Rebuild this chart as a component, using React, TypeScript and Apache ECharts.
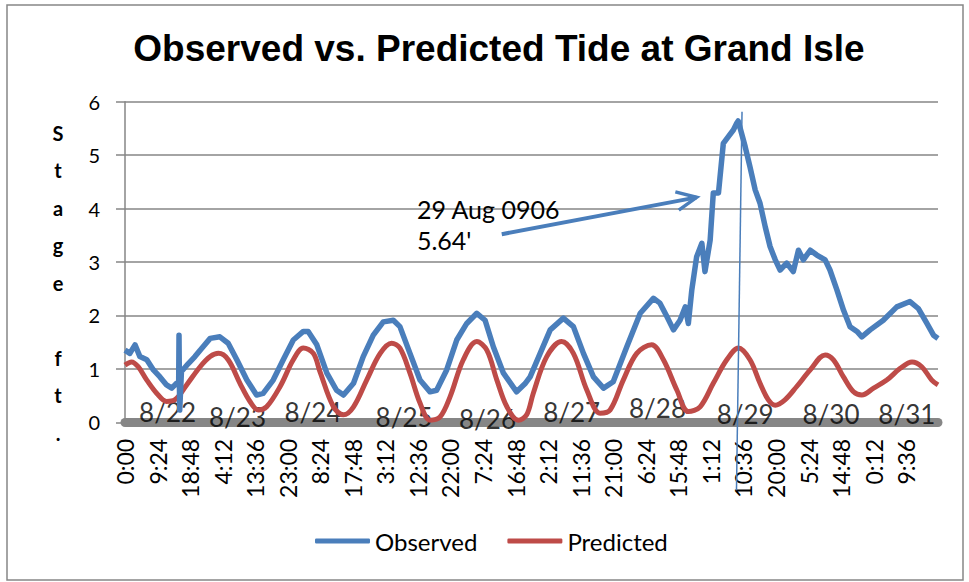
import { useEffect, useRef } from 'react';
import * as echarts from 'echarts';

const titleText = 'Observed vs. Predicted Tide at Grand Isle';
const yAxisLetters = ['S', 't', 'a', 'g', 'e', '', 'f', 't', '.'];
const seriesNames = ['Observed', 'Predicted'];

// x tick labels every 9:24 (9.4 h) from 8/22 0:00
const tickLabels = ['0:00', '9:24', '18:48', '4:12', '13:36', '23:00', '8:24', '17:48', '3:12', '12:36', '22:00', '7:24', '16:48', '2:12', '11:36', '21:00', '6:24', '15:48', '1:12', '10:36', '20:00', '5:24', '14:48', '0:12', '9:36'];

// hours since 8/22 0:00
const obsHours = [0.0, 1.4, 2.9, 4.3, 6.3, 8.2, 10.1, 12.0, 13.5, 14.9, 15.5, 15.6, 15.7, 15.8, 16.3, 18.3, 20.2, 21.7, 24.6, 27.4, 29.8, 32.3, 35.2, 38.0, 39.9, 42.8, 45.7, 48.6, 51.5, 52.9, 55.4, 58.3, 61.1, 63.1, 66.0, 68.8, 71.7, 74.6, 77.5, 79.4, 82.3, 85.2, 88.1, 90.0, 92.9, 95.8, 98.7, 101.6, 104.0, 106.4, 109.3, 113.1, 115.5, 117.0, 119.9, 122.8, 126.6, 129.5, 132.4, 135.3, 138.2, 141.0, 144.9, 148.8, 152.6, 154.5, 156.5, 158.4, 160.3, 161.8, 162.7, 163.7, 165.1, 166.6, 167.5, 169.0, 169.9, 171.4, 172.8, 174.3, 175.7, 176.7, 177.1, 179.1, 180.5, 182.0, 183.4, 184.9, 186.3, 187.8, 189.2, 191.1, 193.0, 194.5, 195.9, 197.9, 199.8, 202.2, 203.6, 205.6, 207.5, 209.4, 211.4, 212.8, 215.2, 219.0, 222.9, 226.7, 229.1, 231.6, 233.5, 234.8];
const obsStage = [1.35, 1.29, 1.45, 1.23, 1.17, 0.98, 0.85, 0.70, 0.64, 0.73, 0.72, 1.63, 0.80, 0.23, 0.95, 1.10, 1.23, 1.35, 1.57, 1.60, 1.48, 1.17, 0.79, 0.51, 0.54, 0.79, 1.17, 1.54, 1.70, 1.70, 1.45, 0.92, 0.60, 0.51, 0.73, 1.23, 1.63, 1.88, 1.91, 1.79, 1.29, 0.79, 0.57, 0.60, 0.98, 1.54, 1.85, 2.04, 1.91, 1.41, 0.92, 0.57, 0.72, 0.85, 1.29, 1.73, 1.95, 1.79, 1.29, 0.85, 0.64, 0.76, 1.41, 2.04, 2.32, 2.23, 1.98, 1.73, 1.91, 2.16, 1.85, 2.48, 3.10, 3.35, 2.82, 3.41, 4.29, 4.29, 5.22, 5.35, 5.47, 5.60, 5.64, 5.16, 4.78, 4.35, 4.10, 3.66, 3.29, 3.04, 2.85, 2.98, 2.82, 3.22, 3.04, 3.22, 3.13, 3.04, 2.85, 2.48, 2.10, 1.79, 1.70, 1.60, 1.73, 1.91, 2.16, 2.26, 2.13, 1.85, 1.63, 1.57];

const predHours = [0.0, 1.9, 3.8, 6.3, 9.2, 12.0, 14.4, 17.8, 21.7, 24.6, 27.0, 29.8, 33.2, 36.1, 38.5, 40.9, 44.8, 48.6, 51.5, 54.4, 56.3, 60.2, 63.1, 66.0, 69.8, 73.7, 77.0, 79.4, 82.3, 85.2, 88.1, 91.0, 93.9, 97.7, 101.6, 104.5, 107.4, 110.3, 113.6, 116.0, 117.9, 121.8, 126.1, 129.5, 133.4, 137.2, 140.1, 143.9, 147.8, 152.1, 155.5, 159.4, 162.7, 166.1, 169.9, 173.8, 177.2, 180.5, 183.4, 185.8, 187.8, 190.6, 194.0, 197.9, 202.2, 204.6, 207.5, 210.4, 212.8, 216.2, 220.0, 223.9, 227.3, 230.1, 233.0, 234.8];
const predStage = [1.07, 1.13, 1.04, 0.79, 0.54, 0.39, 0.42, 0.70, 1.04, 1.23, 1.29, 1.17, 0.73, 0.39, 0.23, 0.29, 0.67, 1.17, 1.39, 1.29, 0.95, 0.29, 0.14, 0.29, 0.79, 1.29, 1.48, 1.39, 0.92, 0.36, 0.04, 0.10, 0.48, 1.17, 1.51, 1.35, 0.79, 0.29, 0.04, 0.14, 0.54, 1.23, 1.51, 1.29, 0.60, 0.17, 0.23, 0.79, 1.29, 1.45, 1.17, 0.60, 0.20, 0.29, 0.73, 1.17, 1.39, 1.17, 0.73, 0.42, 0.32, 0.42, 0.67, 0.98, 1.26, 1.17, 0.85, 0.57, 0.51, 0.64, 0.79, 1.01, 1.13, 1.04, 0.79, 0.70];

// day labels placed along the zero line
const dateLabels = ['8/22', '8/23', '8/24', '8/25', '8/26', '8/27', '8/28', '8/29', '8/30', '8/31'];
const dateLabelHours = [12.3, 32.5, 54.3, 80.6, 104.7, 129.0, 153.8, 179.1, 203.9, 225.8];
const dateLabelStage = [0.19, 0.10, 0.19, 0.10, 0.06, 0.19, 0.27, 0.16, 0.16, 0.16];

// peak annotation
const peakText = "29 Aug 0906\n5.64'";
const peakTextAnchor = [84.3, 4.29];
const arrowTail = [108.8, 3.52];
const arrowTip = [165.1, 4.21];
const peakLineTop = [178.2, 5.81];
const peakLineBottom = [176.6, -1.27];

const FONT = 'Lato, "Noto Sans", sans-serif';
const BLUE = '#4A7EBB';
const RED = '#BE4B48';
const GRID = '#868686';

export default function App() {
  const ref = useRef<HTMLDivElement>(null);
  useEffect(() => {
    const chart = echarts.init(ref.current!, null, { renderer: 'svg' });
    const zip = (xs: number[], ys: number[]) => xs.map((x, i) => [x, ys[i]]);
    chart.setOption({
      animation: false,
      backgroundColor: '#ffffff',
      title: {
        text: titleText,
        left: 494,
        top: 25,
        textAlign: 'center',
        textStyle: { fontFamily: '"Liberation Sans", Arial, sans-serif', fontWeight: 'bold', fontSize: 37, color: '#000' },
      },
      grid: { left: 125, right: 31, top: 101.7, bottom: 159.7, containLabel: false },
      legend: {
        data: seriesNames,
        left: 315,
        top: 529,
        padding: 0,
        icon: 'roundRect',
        itemWidth: 55,
        itemHeight: 5,
        itemGap: 30,
        textStyle: { fontFamily: FONT, fontSize: 24, color: '#000' },
      },
      xAxis: {
        type: 'value',
        min: 0,
        max: 234.8,
        interval: 9.4,
        offset: 4.5,
        axisLine: { show: true, lineStyle: { color: GRID, width: 9 } },
        axisTick: { show: false },
        splitLine: { show: false },
        axisLabel: {
          rotate: 90,
          margin: 12,
          fontFamily: FONT,
          fontSize: 23,
          color: '#000',
          showMaxLabel: false,
          formatter: (v: number) => tickLabels[Math.round(v / 9.4)] ?? '',
        },
      },
      yAxis: {
        type: 'value',
        min: 0,
        max: 6,
        interval: 1,
        axisLine: { show: true, lineStyle: { color: GRID, width: 1.5 } },
        axisTick: { show: true, length: 9, lineStyle: { color: GRID, width: 1.5 } },
        splitLine: { show: true, lineStyle: { color: GRID, width: 1.5 } },
        axisLabel: { margin: 25, fontFamily: FONT, fontSize: 20, color: '#000' },
      },
      series: [
        {
          name: seriesNames[1],
          type: 'line',
          data: zip(predHours, predStage),
          showSymbol: false,
          smooth: 0.35,
          lineStyle: { color: RED, width: 5 },
          itemStyle: { color: RED },
          z: 2,
        },
        {
          name: seriesNames[0],
          type: 'line',
          data: zip(obsHours, obsStage),
          showSymbol: false,
          lineStyle: { color: BLUE, width: 5.5, join: 'round' },
          itemStyle: { color: BLUE },
          z: 3,
        },
        {
          name: 'dates',
          type: 'scatter',
          symbolSize: 0,
          silent: true,
          data: dateLabels.map((d, i) => ({ name: d, value: [dateLabelHours[i], dateLabelStage[i]] })),
          label: { show: true, position: 'inside', formatter: '{b}', fontFamily: FONT, fontSize: 26, color: '#000' },
          z: 1,
        },
      ],
    });

    const px = (p: number[]) => chart.convertToPixel({ gridIndex: 0 }, p) as number[];
    const tail = px(arrowTail);
    const tip = px(arrowTip);
    const ang = Math.atan2(tail[1] - tip[1], tail[0] - tip[0]);
    const hl = 22;
    const hd = (25 * Math.PI) / 180;
    const h1 = [tip[0] + hl * Math.cos(ang + hd), tip[1] + hl * Math.sin(ang + hd)];
    const h2 = [tip[0] + hl * Math.cos(ang - hd), tip[1] + hl * Math.sin(ang - hd)];
    const anchor = px(peakTextAnchor);
    const lt = px(peakLineTop);
    const lb = px(peakLineBottom);

    chart.setOption({
      graphic: [
        {
          type: 'rect',
          shape: { x: 7, y: 5, width: 956, height: 575 },
          style: { fill: 'none', stroke: GRID, lineWidth: 1.5 },
          silent: true,
          z: 0,
        },
        {
          type: 'text',
          x: 58,
          y: 114,
          style: {
            text: yAxisLetters.join('\n'),
            fontFamily: FONT,
            fontWeight: 'bold',
            fontSize: 20,
            lineHeight: 37.5,
            fill: '#000',
            align: 'center',
            verticalAlign: 'top',
          },
        },
        {
          type: 'text',
          x: anchor[0],
          y: anchor[1],
          z: 10,
          style: {
            text: peakText,
            fontFamily: FONT,
            fontSize: 25,
            lineHeight: 31,
            fill: '#000',
            align: 'left',
            verticalAlign: 'top',
          },
        },
        {
          type: 'polyline',
          z: 10,
          shape: { points: [tail, tip] },
          style: { stroke: BLUE, lineWidth: 4, fill: 'none' },
        },
        {
          type: 'polyline',
          z: 10,
          shape: { points: [h1, tip, h2] },
          style: { stroke: BLUE, lineWidth: 3.5, fill: 'none', lineJoin: 'miter' },
        },
        {
          type: 'line',
          z: 10,
          shape: { x1: lt[0], y1: lt[1], x2: lb[0], y2: lb[1] },
          style: { stroke: BLUE, lineWidth: 1.5 },
        },
      ],
    });

    return () => chart.dispose();
  }, []);

  return (
    <div
      ref={ref}
      style={{ position: 'fixed', left: 0, top: 0, width: 969, height: 582, background: '#fff' }}
    />
  );
}
